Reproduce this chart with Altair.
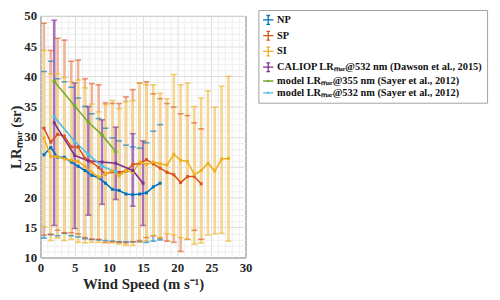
import altair as alt
import pandas as pd

# ---------------- data ----------------
np_x = [0.5 + i for i in range(18)]
np_y = [27.0, 28.2, 26.6, 26.6, 25.8, 25.1, 24.4, 23.6, 23.2, 22.3, 21.3, 21.1, 20.5, 20.4, 20.5, 20.7, 21.7, 22.3]
np_hi = [40.8, 42.5, 39.6, 39.1, 38.2, 36.4, 35.0, 33.8, 33.0, 31.4, 29.8, 29.3, 28.6, 28.3, 28.1, 29.0, 30.9, 32.0]
np_lo = [13.2, 13.8, 13.6, 14.0, 13.6, 13.4, 13.1, 13.0, 12.9, 12.8, 12.7, 12.6, 12.6, 12.6, 12.6, 12.5, 12.7, 12.9]

sp_x = [0.5 + i for i in range(24)]
sp_y = [31.4, 29.1, 30.4, 30.1, 28.3, 28.3, 26.4, 25.8, 24.9, 23.8, 24.2, 24.1, 24.3, 25.4, 25.6, 26.2,
        25.5, 24.8, 24.1, 23.7, 22.4, 23.4, 23.4, 22.2]
sp_hi = [48.8, 44.3, 46.3, 46.0, 42.5, 42.7, 39.6, 38.8, 38.6, 35.6, 35.5, 35.5, 36.6, 37.8, 38.9, 39.1,
         37.1, 36.3, 35.5, 34.9, 33.8, 33.5, 32.3, 31.3]
sp_lo = [13.7, 13.8, 14.5, 14.1, 14.1, 13.9, 13.3, 13.0, 13.0, 12.5, 12.6, 12.5, 12.4, 12.6, 12.8, 13.3,
         13.6, 13.2, 12.7, 12.5, 11.0, 13.0, 14.5, 13.0]

si_x = [0.5 + i for i in range(28)]
si_y = [29.8, 26.7, 26.7, 26.3, 26.1, 25.9, 25.1, 24.1, 23.3, 23.8, 24.4, 23.5, 24.4, 24.1, 25.8, 25.4,
        25.8, 25.5, 25.3, 27.1, 26.1, 25.9, 23.7, 24.4, 25.6, 24.3, 26.3, 26.4]
si_hi = [44.3, 40.4, 40.4, 39.8, 39.1, 39.4, 38.1, 35.4, 34.1, 35.3, 36.0, 34.6, 35.8, 36.0, 38.9, 38.6,
         38.6, 37.2, 36.3, 40.3, 38.6, 38.9, 35.0, 36.4, 37.6, 34.9, 38.4, 40.0]
si_lo = [15.1, 12.8, 13.2, 12.8, 13.0, 12.5, 12.4, 12.5, 12.5, 12.4, 12.4, 12.2, 12.0, 12.0, 12.5, 12.8,
         13.6, 13.3, 13.9, 13.7, 13.3, 13.0, 12.2, 12.4, 13.7, 13.9, 14.0, 12.7]

cal_x = [2, 5, 7, 9, 11, 13.5, 15]
cal_y = [32.3, 26.9, 26.0, 25.8, 25.6, 24.4, 22.3]
cal_hi = [49.3, 38.9, 35.0, 32.8, 31.6, 30.5, 29.3]
cal_lo = [15.3, 14.8, 17.0, 18.8, 19.6, 18.5, 15.3]

mod_x = [2, 5, 7, 9, 11]
m355_y = [39.2, 35.1, 32.4, 30.3, 27.5]
m532_y = [33.3, 29.2, 27.1, 25.1, 24.2]

series = ["NP", "SP", "SI",
          "CALIOP LRₘₐᵣ@532 nm (Dawson et al., 2015)",
          "model LRₘₐᵣ@355 nm (Sayer et al., 2012)",
          "model LRₘₐᵣ@532 nm (Sayer et al., 2012)"]
colors = ["#0072BD", "#D95319", "#EDB120", "#7E2F8E", "#77AC30", "#4DBEEE"]
bar_colors = ["#8fc0e3", "#efb398", "#f5d68c", "#a873b4", "#b5d68f", "#a6def6"]

ERR = "M-1,0H1M0,-0.85V0.85M-0.35,-0.85H0.35M-0.35,0.85H0.35"
DOT = "M-1,0H1M-0.12,0A0.12,0.12 0 1,1 0.12,0A0.12,0.12 0 1,1 -0.12,0"
shapes = [ERR, ERR, ERR, ERR, DOT, DOT]

# ---------------- tables ----------------
def frame(name, xs, ys, los=None, his=None):
    d = pd.DataFrame({"series": name, "x": xs, "y": ys})
    if los is not None:
        d["lo"] = los
        d["hi"] = his
    return d

err_df = pd.concat([
    frame(series[0], np_x, np_y, np_lo, np_hi),
    frame(series[1], sp_x, sp_y, sp_lo, sp_hi),
    frame(series[2], si_x, si_y, si_lo, si_hi),
    frame(series[3], cal_x, cal_y, cal_lo, cal_hi),
], ignore_index=True)
mod_df = pd.concat([
    frame(series[4], mod_x, m355_y),
    frame(series[5], mod_x, m532_y),
], ignore_index=True)
line_df = pd.concat([err_df[["series", "x", "y"]], mod_df], ignore_index=True)
leg_df = pd.DataFrame({"series": series, "x": [-100.0] * 6, "y": [-100.0] * 6})

FONT = "Liberation Serif"
color_scale = alt.Scale(domain=series, range=colors)
grid_col = {"condition": {"test": "datum.value % 5 === 0", "value": "#dcdcdc"}, "value": "#eeeeee"}

x_axis = alt.Axis(values=list(range(0, 31)),
                  labelExpr="datum.value % 5 === 0 ? datum.label : ''",
                  labelOverlap=False, labelFlush=False, ticks=False, domain=False,
                  gridColor=grid_col, title="Wind Speed (m s⁻¹)", labelPadding=4, titlePadding=2)
y_axis = alt.Axis(values=list(range(10, 51)),
                  labelExpr="datum.value % 5 === 0 ? datum.label : ''",
                  labelOverlap=False, labelFlush=False, ticks=False, domain=False,
                  gridColor=grid_col, title="LRₘₐᵣ (sr)", labelPadding=4, titlePadding=0)
x_scale = alt.Scale(domain=[0, 30], nice=False)
y_scale = alt.Scale(domain=[10, 50], nice=False)


def X(field="x"):
    return alt.X(f"{field}:Q", scale=x_scale, axis=x_axis)


def Y(field="y"):
    return alt.Y(f"{field}:Q", scale=y_scale, axis=y_axis)


col_nolegend = alt.Color("series:N", scale=color_scale, legend=None)

leg = alt.Legend(title=None, orient="none", legendX=221, legendY=-6,
                 labelFont=FONT, labelFontWeight="bold", labelFontSize=10.5,
                 labelColor="#111", labelLimit=400, labelOffset=3,
                 symbolSize=110, symbolStrokeWidth=1.3,
                 rowPadding=0, padding=4,
                 strokeColor="#a0a0a0", fillColor="white")

legend_src = alt.Chart(leg_df).mark_point(filled=False, strokeWidth=1.3, opacity=1, clip=True).encode(
    x=X(), y=Y(),
    color=alt.Color("series:N", scale=color_scale, legend=leg),
    shape=alt.Shape("series:N", scale=alt.Scale(domain=series, range=shapes), legend=leg))

rules = alt.Chart(err_df).mark_rule(strokeWidth=2.6).encode(
    x=X(), y=Y("lo"), y2="hi:Q",
    stroke=alt.Stroke("series:N", scale=alt.Scale(domain=series, range=bar_colors), legend=None))

caps = alt.Chart(err_df).transform_fold(["lo", "hi"], as_=["kind", "v"]).mark_tick(
    orient="horizontal", size=6, thickness=1.6, opacity=0.6).encode(
    x=X(), y=Y("v"), color=col_nolegend)

lines = alt.Chart(line_df).mark_line(strokeWidth=1.6).encode(
    x=X(), y=Y(), color=col_nolegend, detail="series:N", order="x:Q")

sq_pts = alt.Chart(err_df).mark_point(shape="square", size=9, filled=True, opacity=1).encode(
    x=X(), y=Y(), color=col_nolegend)

dot_pts = alt.Chart(mod_df).mark_point(shape="circle", size=14, filled=True, opacity=1).encode(
    x=X(), y=Y(), color=col_nolegend)

chart = alt.layer(legend_src, rules, caps, lines, sq_pts, dot_pts).properties(
    width=208, height=245,
    autosize=alt.AutoSizeParams(type="none"),
    padding={"left": 33, "top": 6, "right": 250, "bottom": 35},
).configure_view(stroke="#333333", strokeWidth=1).configure_axis(
    labelFont=FONT, labelFontWeight="bold", labelFontSize=13, labelColor="#262626",
    titleFont=FONT, titleFontWeight="bold", titleFontSize=15, titleColor="#262626",
)

chart.save("out.html", embed_options={"renderer": "svg", "actions": False})
